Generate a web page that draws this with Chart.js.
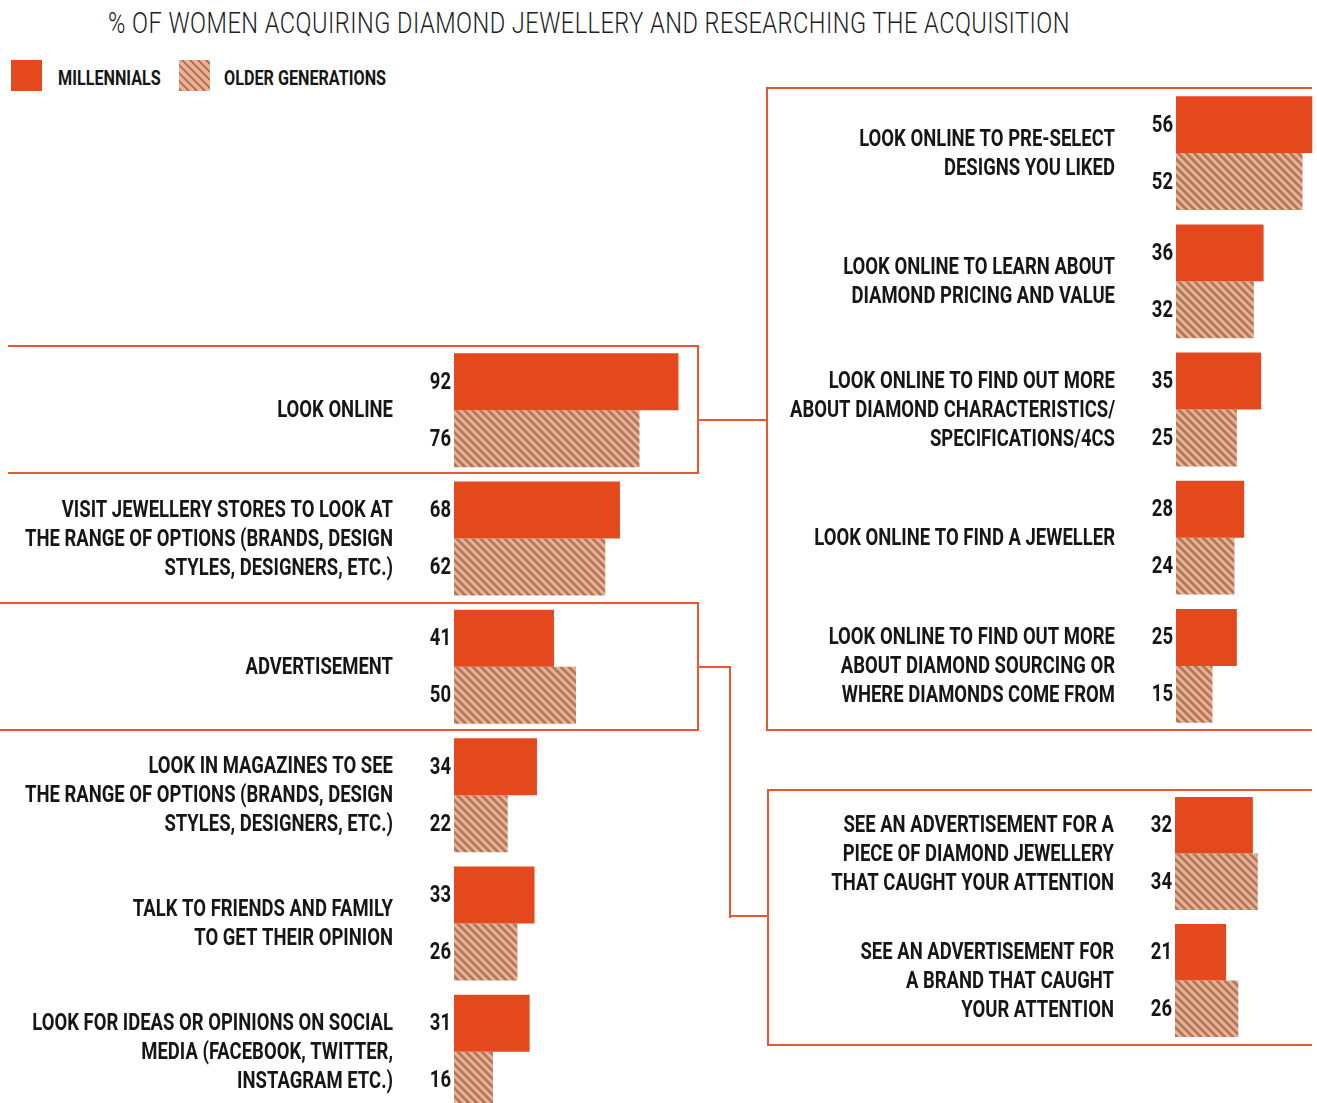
<!DOCTYPE html>
<html>
<head>
<meta charset="utf-8">
<title>% of women acquiring diamond jewellery and researching the acquisition</title>
<script src="https://cdn.jsdelivr.net/npm/chart.js@4.4.1/dist/chart.umd.min.js"></script>
<style>
  body { margin: 0; background: #fff; }
  #page { position: relative; width: 1317px; height: 1103px; overflow: hidden; background: #fff;
          font-family: Roboto, "Noto Sans", sans-serif; color: #161616; }
  .frame { position: absolute; box-sizing: border-box; border: 0 solid #EA5630; }
  .wire { position: absolute; background: #EA5630; }
  canvas { position: absolute; }
  #title { position: absolute; left: 108px; top: 8px; font-weight: 300; font-size: 30px; line-height: 30px;
           white-space: nowrap; transform-origin: 0 0; letter-spacing: 0.6px; color: #1c1c1c; }
  .swatch { position: absolute; top: 60px; width: 31px; height: 31px; }
  .sw-mil { left: 11px; background: #E4491E; }
  .sw-old { left: 179px; background: repeating-linear-gradient(45deg, #A97A64 0 2.4px, #F3B08E 2.4px 5.66px); }
  .key { position: absolute; top: 66px; font-weight: 700; font-size: 21px; line-height: 24px; white-space: nowrap;
         transform-origin: 0 50%; color: #161616; }
</style>
</head>
<body>
<div id="page">
  <div id="title">% OF WOMEN ACQUIRING DIAMOND JEWELLERY AND RESEARCHING THE ACQUISITION</div>

  <div class="swatch sw-mil"></div>
  <div class="key" id="keyMil" style="left:58px">MILLENNIALS</div>
  <div class="swatch sw-old"></div>
  <div class="key" id="keyOld" style="left:224px">OLDER GENERATIONS</div>

  <!-- frames around the grouped answers and the wires joining them -->
  <div class="frame" style="left:8px; top:345px; width:691px; height:129px; border-top-width:2px; border-bottom-width:2px; border-right-width:2px;"></div>
  <div class="frame" style="left:0px; top:602px; width:699px; height:129px; border-top-width:2px; border-bottom-width:2px; border-right-width:2px;"></div>
  <div class="frame" style="left:766px; top:87px; width:546px; height:644px; border-top-width:2px; border-bottom-width:2px; border-left-width:2px;"></div>
  <div class="frame" style="left:767px; top:789px; width:545px; height:257px; border-top-width:2px; border-bottom-width:2px; border-left-width:2px;"></div>
  <div class="wire" style="left:698px; top:419px; width:70px; height:2px;"></div>
  <div class="wire" style="left:698px; top:666px; width:33px; height:2px;"></div>
  <div class="wire" style="left:729px; top:666px; width:2px; height:252px;"></div>
  <div class="wire" style="left:729px; top:915px; width:40px; height:2px;"></div>

  <canvas id="mainChart" width="698" height="770" style="left:0px; top:346px;"></canvas>
  <canvas id="onlineChart" width="552" height="641" style="left:770px; top:89px;"></canvas>
  <canvas id="adChart" width="551" height="254" style="left:770px; top:790px;"></canvas>
</div>

<script>
// ---- data ----
const mainLabels = [
  ['LOOK ONLINE'],
  ['VISIT JEWELLERY STORES TO LOOK AT', 'THE RANGE OF OPTIONS (BRANDS, DESIGN', 'STYLES, DESIGNERS, ETC.)'],
  ['ADVERTISEMENT'],
  ['LOOK IN MAGAZINES TO SEE', 'THE RANGE OF OPTIONS (BRANDS, DESIGN', 'STYLES, DESIGNERS, ETC.)'],
  ['TALK TO FRIENDS AND FAMILY', 'TO GET THEIR OPINION'],
  ['LOOK FOR IDEAS OR OPINIONS ON SOCIAL', 'MEDIA (FACEBOOK, TWITTER,', 'INSTAGRAM ETC.)']
];
const mainMillennials = [92, 68, 41, 34, 33, 31];
const mainOlder       = [76, 62, 50, 22, 26, 16];

const onlineLabels = [
  ['LOOK ONLINE TO PRE-SELECT', 'DESIGNS YOU LIKED'],
  ['LOOK ONLINE TO LEARN ABOUT', 'DIAMOND PRICING AND VALUE'],
  ['LOOK ONLINE TO FIND OUT MORE', 'ABOUT DIAMOND CHARACTERISTICS/', 'SPECIFICATIONS/4CS'],
  ['LOOK ONLINE TO FIND A JEWELLER'],
  ['LOOK ONLINE TO FIND OUT MORE', 'ABOUT DIAMOND SOURCING OR', 'WHERE DIAMONDS COME FROM']
];
const onlineMillennials = [56, 36, 35, 28, 25];
const onlineOlder       = [52, 32, 25, 24, 15];

const adLabels = [
  ['SEE AN ADVERTISEMENT FOR A', 'PIECE OF DIAMOND JEWELLERY', 'THAT CAUGHT YOUR ATTENTION'],
  ['SEE AN ADVERTISEMENT FOR', 'A BRAND THAT CAUGHT', 'YOUR ATTENTION']
];
const adMillennials = [32, 21];
const adOlder       = [34, 26];

const seriesNames = ['MILLENNIALS', 'OLDER GENERATIONS'];

// ---- styling ----
const RED = '#E4491E';
const INK = '#161616';
const TEXT_FONT = '700 24px Roboto, "Noto Sans", sans-serif';
const SQUEEZE = 0.77;      // horizontal squeeze giving the condensed lettering
const LINE_H = 29;
const LABEL_GAP = 61;      // from the bar baseline to the right edge of the answer text

function hatchPattern() {
  const c = document.createElement('canvas');
  c.width = 8; c.height = 8;
  const g = c.getContext('2d');
  g.fillStyle = '#F3B08E';
  g.fillRect(0, 0, 8, 8);
  g.strokeStyle = '#A97A64';
  g.lineWidth = 2.7;
  for (const k of [-8, 0, 8]) {
    g.beginPath();
    g.moveTo(k - 1, -1);
    g.lineTo(k + 9, 9);
    g.stroke();
  }
  return g.createPattern(c, 'repeat');
}
const HATCH = hatchPattern();

function squeezedText(ctx, text, x, y) {
  ctx.save();
  ctx.translate(x, y);
  ctx.scale(SQUEEZE, 1);
  ctx.fillText(text, 0, 0);
  ctx.restore();
}

// answer text beside each group and the value next to each bar
const barText = {
  id: 'barText',
  afterDatasetsDraw(chart) {
    const ctx = chart.ctx;
    const yScale = chart.scales.y;
    ctx.save();
    ctx.font = TEXT_FONT;
    ctx.fillStyle = INK;
    ctx.textAlign = 'right';
    ctx.textBaseline = 'middle';
    const right = chart.chartArea.left - LABEL_GAP;
    chart.data.labels.forEach((lines, i) => {
      const cy = yScale.getPixelForValue(i) + 1;
      lines.forEach((line, j) => {
        squeezedText(ctx, line, right, cy + (j - (lines.length - 1) / 2) * LINE_H);
      });
    });
    chart.data.datasets.forEach((ds, di) => {
      chart.getDatasetMeta(di).data.forEach((bar, i) => {
        squeezedText(ctx, String(ds.data[i]), bar.base - 3, bar.y + 1);
      });
    });
    ctx.restore();
  }
};

function groupedBars(id, labels, millennials, older, xMax, leftPad) {
  return new Chart(document.getElementById(id), {
    type: 'bar',
    data: {
      labels: labels,
      datasets: [
        { label: seriesNames[0], data: millennials, backgroundColor: RED,
          borderWidth: 0, categoryPercentage: 0.888, barPercentage: 1 },
        { label: seriesNames[1], data: older, backgroundColor: HATCH,
          borderWidth: 0, categoryPercentage: 0.888, barPercentage: 1 }
      ]
    },
    options: {
      indexAxis: 'y',
      responsive: false,
      animation: false,
      devicePixelRatio: 1,
      layout: { padding: { left: leftPad, right: 0, top: 0, bottom: 0 } },
      scales: {
        x: { display: false, min: 0, max: xMax },
        y: { display: false }
      },
      plugins: {
        legend: { display: false },
        tooltip: { enabled: false },
        title: { display: false }
      }
    },
    plugins: [barText]
  });
}

groupedBars('mainChart', mainLabels, mainMillennials, mainOlder, 100, 454);
groupedBars('onlineChart', onlineLabels, onlineMillennials, onlineOlder, 60, 406);
groupedBars('adChart', adLabels, adMillennials, adOlder, 60, 405);

// title and key text use the same condensed lettering
const title = document.getElementById('title');
title.style.transform = 'scaleX(' + (962 / title.offsetWidth) + ')';
document.getElementById('keyMil').style.transform = 'scaleX(' + SQUEEZE + ')';
document.getElementById('keyOld').style.transform = 'scaleX(' + SQUEEZE + ')';
</script>
</body>
</html>
